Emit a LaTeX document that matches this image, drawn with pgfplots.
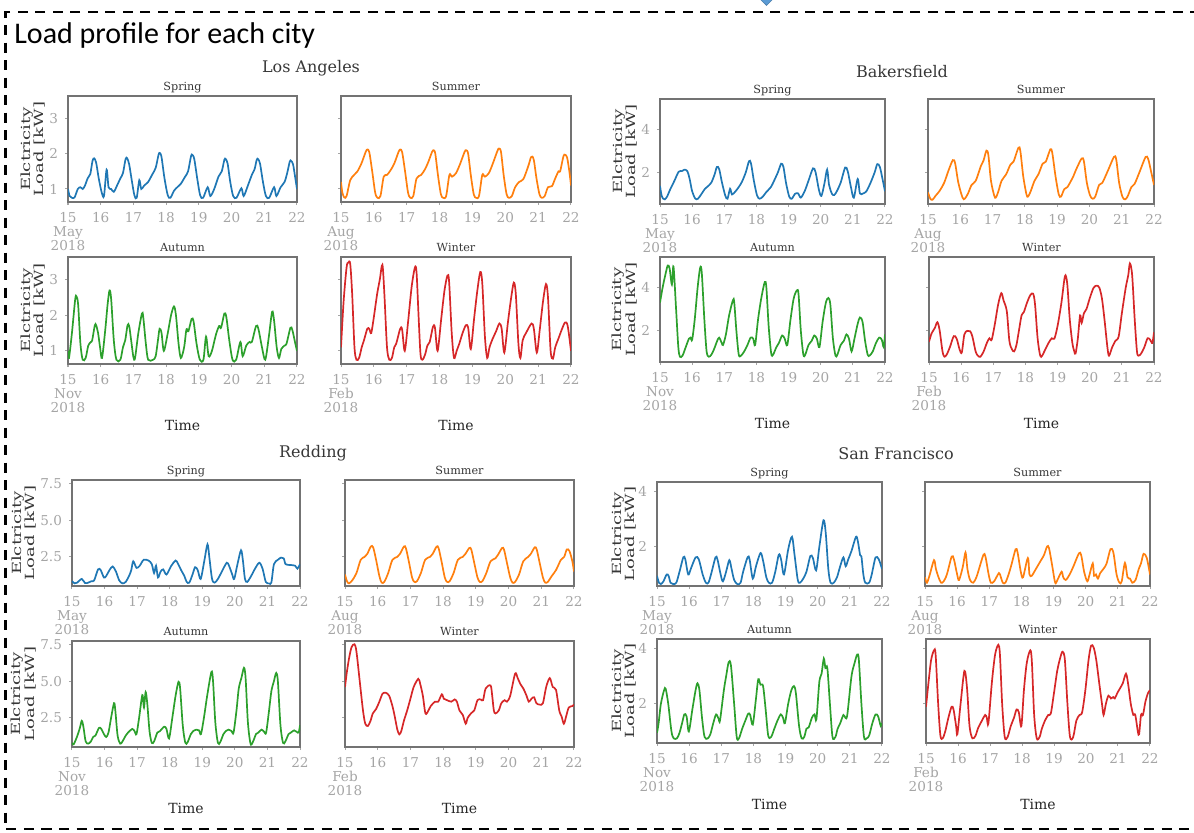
\documentclass[border=0pt]{standalone}
\usepackage{fontspec}
\usepackage{graphicx}
\usepackage{pgfplots}
\pgfplotsset{compat=1.18}
\setmainfont{DejaVu Serif}
\newfontfamily\titlefont{Carlito}

\definecolor{tabblue}{RGB}{31,119,180}
\definecolor{taborange}{RGB}{255,127,14}
\definecolor{tabgreen}{RGB}{44,160,44}
\definecolor{tabred}{RGB}{214,39,40}
\definecolor{framegray}{RGB}{115,115,115}
\definecolor{tickgray}{RGB}{165,165,165}
\definecolor{labelgray}{RGB}{55,55,55}
\definecolor{arrowblue}{RGB}{91,155,213}

\newcommand\tickfont{\fontsize{6.8}{7}\selectfont}
\newcommand\subfont{\fontsize{5.6}{6}\selectfont}
\newcommand\cityfont{\fontsize{8}{9}\selectfont}
\newcommand\timefont{\fontsize{7}{8}\selectfont}
\newcommand\ylab{\scalebox{1}[0.7]{\fontsize{9}{9.6}\selectfont\begin{tabular}{@{}c@{}}Elctricity\\Load [kW]\end{tabular}}}

\pgfplotsset{
  every axis title shift=0pt,
  panel/.style={
    scale only axis, anchor=north west,
    xmin=15, xmax=22, xtick={15,...,22},
    axis line style={draw=framegray, line width=0.8pt},
    major tick length=1.5pt, tick align=outside,
    xtick pos=bottom, ytick pos=left,
    every tick/.style={draw=tickgray, line width=0.5pt},
    tick label style={font=\tickfont, text=tickgray},
    xticklabel style={align=center},
    title style={font=\subfont, text=labelgray, at={(0.5,1)}, anchor=base, yshift=2.8pt, inner sep=0pt},
    /pgf/number format/assume math mode=true,
  },
  monthx/.style={xticklabels={{15\\#1\\2018},16,17,18,19,20,21,22}},
  la/.style={ymin=0.63, ymax=3.64, ytick={1,2,3}, yticklabels={1,2,3}},
  bak/.style={ymin=0.5, ymax=5.45, ytick={2,4}, yticklabels={2,4}},
  red/.style={ymin=0.52, ymax=7.72, ytick={2.5,5,7.5}, yticklabels={2.5,5.0,7.5}},
  sf/.style={ymin=0.58, ymax=4.36, ytick={2,4}, yticklabels={2,4}},
  noy/.style={yticklabels={}},
  lefty/.style={ylabel={\ylab}, ylabel style={at={(axis description cs:-#1,0.5)}, anchor=center, text=labelgray}},
  timex/.style={xlabel={Time}, xlabel style={at={(axis description cs:0.5,0)}, anchor=center, yshift=-30.5pt, font=\timefont, text=black!85}},
  ser/.style={line width=0.85pt, smooth, tension=0.5, no marks},
}

\begin{document}
\begin{tikzpicture}
\useasboundingbox (0,0) rectangle (597pt,-416pt);

% frame of the slide
\draw[line width=1.35pt, dash pattern=on 5pt off 3.75pt] (600pt,-6pt) -- (2.75pt,-6pt) -- (2.75pt,-414.5pt) -- (600pt,-414.5pt);
\filldraw[fill=arrowblue, draw=arrowblue!80!black, line width=0.3pt] (379.5pt,1pt) -- (387pt,1pt) -- (383.25pt,-2.7pt) -- cycle;
\node[anchor=base west, font=\titlefont\fontsize{15}{17}\selectfont, inner sep=0pt] at (7pt,-21.5pt) {Load profile for each city};

% city titles
\node[font=\cityfont, text=labelgray] at (155.5pt,-34pt) {Los Angeles};
\node[font=\cityfont, text=labelgray] at (451pt,-36pt) {Bakersfield};
\node[font=\cityfont, text=labelgray] at (156.5pt,-226.5pt) {Redding};
\node[font=\cityfont, text=labelgray] at (448pt,-227pt) {San Francisco};

%% ---------------- Los Angeles ----------------
\begin{axis}[panel, la, lefty=0.148, monthx=May, title={Spring}, at={(34pt,-48pt)}, width=114.5pt, height=53pt]
\addplot[ser, tabblue] coordinates {(15,1.0)(15.05,0.8)(15.12,0.75)(15.2,0.76)(15.3,1.0)(15.38,1.05)(15.45,1.0)(15.52,1.1)(15.6,1.3)(15.68,1.42)(15.75,1.8)(15.8,1.87)(15.86,1.75)(15.94,1.3)(16.03,0.9)(16.1,0.8)(16.18,1.55)(16.24,1.05)(16.32,1.0)(16.4,0.92)(16.5,1.1)(16.6,1.3)(16.68,1.45)(16.76,1.85)(16.81,1.87)(16.87,1.7)(16.94,1.3)(17.03,0.82)(17.1,0.75)(17.18,1.25)(17.24,1.0)(17.33,1.1)(17.45,1.2)(17.58,1.42)(17.68,1.6)(17.77,1.98)(17.81,2.02)(17.86,1.9)(17.95,1.3)(18.05,0.82)(18.13,0.75)(18.24,0.95)(18.34,1.05)(18.45,1.15)(18.58,1.35)(18.67,1.5)(18.76,1.93)(18.8,1.97)(18.86,1.85)(18.95,1.3)(19.04,0.82)(19.13,0.75)(19.27,1.05)(19.35,0.8)(19.47,1.0)(19.6,1.35)(19.7,1.5)(19.78,1.83)(19.82,1.85)(19.88,1.72)(19.96,1.2)(20.05,0.8)(20.15,0.75)(20.3,1.02)(20.37,0.8)(20.5,1.1)(20.62,1.4)(20.7,1.55)(20.77,1.83)(20.81,1.85)(20.87,1.72)(20.96,1.2)(21.05,0.8)(21.15,0.75)(21.3,1.05)(21.37,0.8)(21.5,1.05)(21.62,1.2)(21.7,1.45)(21.78,1.78)(21.82,1.8)(21.88,1.7)(21.95,1.3)(22,1.0)};
\end{axis}
\begin{axis}[panel, la, noy, monthx=Aug, title={Summer}, at={(170.5pt,-48pt)}, width=115pt, height=53pt]
\addplot[ser, taborange] coordinates {(15,1.2)(15.04,0.9)(15.1,0.76)(15.17,0.8)(15.28,1.25)(15.4,1.4)(15.5,1.5)(15.62,1.72)(15.75,2.05)(15.8,2.12)(15.86,2.05)(15.95,1.5)(16.04,0.9)(16.11,0.75)(16.2,0.8)(16.3,1.35)(16.4,1.4)(16.5,1.52)(16.62,1.72)(16.75,2.05)(16.8,2.12)(16.86,2.05)(16.95,1.5)(17.04,0.9)(17.11,0.75)(17.2,0.8)(17.3,1.3)(17.44,1.4)(17.55,1.55)(17.65,1.75)(17.77,2.05)(17.82,2.1)(17.87,2.0)(17.95,1.4)(18.04,0.85)(18.11,0.75)(18.2,0.8)(18.3,1.4)(18.38,1.35)(18.5,1.45)(18.62,1.7)(18.76,2.05)(18.81,2.1)(18.87,2.0)(18.95,1.4)(19.04,0.85)(19.11,0.75)(19.2,0.8)(19.3,1.4)(19.38,1.35)(19.5,1.45)(19.62,1.72)(19.76,2.08)(19.81,2.15)(19.87,2.05)(19.95,1.4)(20.04,0.85)(20.11,0.75)(20.2,0.8)(20.3,1.05)(20.42,1.2)(20.55,1.28)(20.7,1.65)(20.78,1.9)(20.82,1.92)(20.87,1.82)(20.95,1.3)(21.04,0.85)(21.11,0.75)(21.2,0.8)(21.3,1.05)(21.42,1.08)(21.52,1.3)(21.62,1.5)(21.67,1.5)(21.77,1.93)(21.82,1.97)(21.88,1.9)(21.95,1.5)(22,1.1)};
\end{axis}
\begin{axis}[panel, la, lefty=0.148, timex, monthx=Nov, title={Autumn}, at={(34pt,-128.5pt)}, width=114.5pt, height=53.5pt]
\addplot[ser, tabgreen] coordinates {(15,1.0)(15.03,0.8)(15.12,1.5)(15.22,2.45)(15.26,2.53)(15.31,2.3)(15.38,1.2)(15.45,0.75)(15.54,0.8)(15.62,1.15)(15.7,1.25)(15.74,1.3)(15.82,1.72)(15.86,1.72)(15.92,1.5)(15.98,1.1)(16.04,0.8)(16.14,1.6)(16.21,2.3)(16.27,2.7)(16.32,2.45)(16.4,1.3)(16.48,0.75)(16.6,0.75)(16.68,1.1)(16.75,1.3)(16.82,1.72)(16.87,1.7)(16.93,1.3)(17.0,0.82)(17.05,0.8)(17.15,1.5)(17.26,2.05)(17.3,1.95)(17.38,1.2)(17.45,0.75)(17.6,0.75)(17.68,0.85)(17.75,1.3)(17.8,1.62)(17.86,1.5)(17.93,1.0)(18.05,1.5)(18.15,2.0)(18.24,2.25)(18.3,2.0)(18.38,1.2)(18.45,0.8)(18.55,1.1)(18.62,1.6)(18.68,1.55)(18.78,1.9)(18.84,1.82)(18.93,1.2)(19.03,0.75)(19.14,0.75)(19.22,1.4)(19.3,0.85)(19.4,1.0)(19.52,1.45)(19.62,1.7)(19.68,1.65)(19.78,2.05)(19.84,1.95)(19.93,1.3)(20.03,0.75)(20.14,0.75)(20.27,1.25)(20.34,0.85)(20.45,1.15)(20.55,1.25)(20.62,1.25)(20.75,1.7)(20.82,1.62)(20.93,1.1)(21.03,0.75)(21.14,1.4)(21.24,2.1)(21.3,1.85)(21.38,1.1)(21.45,0.8)(21.52,1.05)(21.62,1.15)(21.68,1.2)(21.8,1.65)(21.86,1.58)(21.95,1.2)(22,1.0)};
\end{axis}
\begin{axis}[panel, la, noy, timex, monthx=Feb, title={Winter}, at={(170.5pt,-128.5pt)}, width=115pt, height=53.5pt]
\addplot[ser, tabred] coordinates {(15,1.1)(15.08,2.4)(15.17,3.35)(15.22,3.48)(15.28,3.45)(15.34,2.6)(15.41,1.1)(15.47,0.75)(15.55,0.8)(15.63,1.1)(15.7,1.3)(15.8,1.62)(15.86,1.62)(15.92,1.5)(16.0,1.95)(16.1,2.6)(16.18,3.0)(16.26,3.42)(16.32,2.6)(16.4,1.1)(16.47,0.75)(16.55,0.8)(16.62,1.1)(16.68,1.2)(16.8,1.62)(16.86,1.6)(16.94,1.0)(17.04,1.8)(17.15,2.8)(17.25,3.35)(17.3,3.2)(17.36,2.0)(17.42,0.9)(17.48,0.75)(17.56,0.9)(17.63,1.15)(17.7,1.25)(17.8,1.68)(17.86,1.65)(17.94,1.0)(18.05,1.9)(18.15,2.7)(18.24,3.12)(18.29,2.95)(18.37,1.5)(18.44,0.8)(18.52,1.0)(18.6,1.2)(18.7,1.5)(18.8,1.72)(18.87,1.65)(18.95,1.05)(19.05,1.9)(19.15,2.7)(19.24,3.22)(19.3,2.9)(19.38,1.4)(19.45,0.8)(19.52,1.1)(19.62,1.35)(19.72,1.55)(19.82,1.77)(19.89,1.62)(19.97,0.95)(20.08,1.8)(20.18,2.5)(20.26,2.92)(20.32,2.6)(20.4,1.2)(20.46,0.8)(20.53,1.3)(20.63,1.5)(20.8,1.77)(20.87,1.62)(20.96,0.95)(21.05,1.6)(21.15,2.4)(21.24,2.88)(21.3,2.5)(21.38,1.0)(21.45,0.78)(21.52,1.1)(21.62,1.35)(21.72,1.6)(21.82,1.8)(21.9,1.7)(22,1.0)};
\end{axis}

%% ---------------- Bakersfield ----------------
\begin{axis}[panel, bak, lefty=0.151, monthx=May, title={Spring}, at={(330pt,-49.5pt)}, width=112.5pt, height=52.5pt]
\addplot[ser, tabblue] coordinates {(15,1.35)(15.05,0.9)(15.1,0.75)(15.15,0.72)(15.22,0.85)(15.32,1.2)(15.45,1.6)(15.58,2.02)(15.68,2.05)(15.76,2.12)(15.85,2.05)(15.92,1.7)(16.0,1.1)(16.1,0.75)(16.18,0.75)(16.28,0.95)(16.4,1.22)(16.5,1.35)(16.6,1.52)(16.7,1.9)(16.77,2.25)(16.84,2.15)(16.93,1.5)(17.03,0.9)(17.1,0.75)(17.18,1.22)(17.24,0.95)(17.35,1.1)(17.45,1.3)(17.55,1.55)(17.67,2.0)(17.77,2.52)(17.83,2.42)(17.92,1.6)(18.02,0.9)(18.1,0.75)(18.2,0.85)(18.3,1.05)(18.45,1.3)(18.55,1.6)(18.67,2.0)(18.77,2.4)(18.84,2.25)(18.92,1.5)(19.02,0.85)(19.1,0.75)(19.2,0.98)(19.3,1.0)(19.38,0.8)(19.5,1.1)(19.62,1.6)(19.76,2.18)(19.84,2.0)(19.94,1.2)(20.02,0.88)(20.12,1.5)(20.2,2.12)(20.26,1.4)(20.35,0.98)(20.42,0.92)(20.5,1.1)(20.62,1.5)(20.76,2.22)(20.84,2.05)(20.94,1.3)(21.03,0.8)(21.15,1.68)(21.22,1.0)(21.32,1.0)(21.42,1.1)(21.55,1.5)(21.68,2.0)(21.76,2.38)(21.84,2.25)(21.92,1.7)(22,1.1)};
\end{axis}
\begin{axis}[panel, bak, noy, monthx=Aug, title={Summer}, at={(464pt,-49.5pt)}, width=113pt, height=52.5pt]
\addplot[ser, taborange] coordinates {(15,1.05)(15.07,0.75)(15.14,0.7)(15.24,0.9)(15.35,1.1)(15.5,1.5)(15.64,2.1)(15.77,2.57)(15.84,2.42)(15.94,1.5)(16.07,0.8)(16.14,0.75)(16.24,1.0)(16.35,1.4)(16.48,1.6)(16.64,2.3)(16.72,2.55)(16.81,3.02)(16.87,2.8)(16.95,1.6)(17.05,0.9)(17.1,0.8)(17.18,1.1)(17.28,1.6)(17.42,1.9)(17.55,2.35)(17.65,2.5)(17.8,3.15)(17.86,3.0)(17.95,1.8)(18.05,0.95)(18.1,0.85)(18.18,1.1)(18.3,1.6)(18.42,1.9)(18.55,2.4)(18.65,2.5)(18.79,3.08)(18.85,2.9)(18.95,1.8)(19.05,0.95)(19.12,0.85)(19.22,1.2)(19.32,1.3)(19.5,1.8)(19.58,2.1)(19.76,2.65)(19.83,2.5)(19.92,1.5)(20.02,0.9)(20.1,0.75)(20.18,0.85)(20.3,1.4)(20.4,1.5)(20.58,2.1)(20.76,2.72)(20.83,2.6)(20.92,1.5)(21.02,0.85)(21.1,0.72)(21.18,0.85)(21.3,1.3)(21.4,1.45)(21.55,2.0)(21.74,2.72)(21.82,2.62)(21.9,2.1)(22,1.4)};
\end{axis}
\begin{axis}[panel, bak, lefty=0.151, timex, monthx=Nov, title={Autumn}, at={(330pt,-128.5pt)}, width=112.5pt, height=52.5pt]
\addplot[ser, tabgreen] coordinates {(15,3.3)(15.08,4.0)(15.15,4.5)(15.24,5.05)(15.3,4.9)(15.37,4.15)(15.42,5.0)(15.5,3.0)(15.57,1.2)(15.62,0.75)(15.7,0.8)(15.8,1.2)(15.9,1.6)(15.95,1.65)(16.0,1.55)(16.08,2.5)(16.17,4.0)(16.25,4.95)(16.3,4.7)(16.38,2.5)(16.45,1.0)(16.52,0.75)(16.6,0.85)(16.68,1.1)(16.78,1.5)(16.84,1.65)(16.92,1.4)(16.96,1.3)(17.05,1.8)(17.15,2.7)(17.27,3.42)(17.31,3.3)(17.38,1.9)(17.45,0.85)(17.52,0.8)(17.62,1.0)(17.72,1.3)(17.82,1.65)(17.9,1.6)(17.96,1.3)(18.05,2.5)(18.15,3.5)(18.26,4.27)(18.31,4.0)(18.38,2.2)(18.46,0.9)(18.52,0.85)(18.62,1.2)(18.7,1.4)(18.8,1.75)(18.88,1.6)(18.96,1.3)(19.06,2.5)(19.16,3.5)(19.26,3.88)(19.31,3.7)(19.38,2.0)(19.46,0.85)(19.52,0.85)(19.62,1.3)(19.72,1.5)(19.8,1.75)(19.88,1.6)(19.96,1.2)(20.06,2.4)(20.16,3.3)(20.24,3.52)(20.3,3.2)(20.38,1.6)(20.46,0.8)(20.52,0.85)(20.62,1.3)(20.72,1.5)(20.8,1.8)(20.88,1.6)(20.96,1.0)(21.05,1.6)(21.15,2.3)(21.22,2.6)(21.3,2.4)(21.38,1.5)(21.46,0.85)(21.52,0.8)(21.62,1.0)(21.72,1.4)(21.82,1.65)(21.9,1.55)(21.96,1.2)(22,1.8)};
\end{axis}
\begin{axis}[panel, bak, noy, timex, monthx=Feb, title={Winter}, at={(464.5pt,-128.5pt)}, width=112.5pt, height=52.5pt]
\addplot[ser, tabred] coordinates {(15,1.45)(15.08,1.85)(15.18,2.1)(15.26,2.38)(15.33,2.0)(15.42,1.0)(15.48,0.75)(15.55,0.85)(15.65,1.2)(15.77,1.72)(15.86,1.6)(15.95,1.1)(16.02,0.95)(16.1,1.8)(16.19,1.97)(16.28,1.95)(16.35,1.7)(16.45,1.0)(16.52,0.8)(16.6,0.75)(16.7,1.0)(16.8,1.4)(16.88,1.62)(16.95,1.55)(17.05,2.3)(17.15,3.2)(17.25,3.75)(17.32,3.4)(17.42,2.9)(17.5,1.5)(17.58,1.1)(17.65,1.0)(17.72,1.3)(17.8,2.0)(17.88,2.7)(17.95,2.85)(18.05,3.3)(18.15,3.65)(18.24,3.72)(18.3,3.2)(18.38,1.6)(18.46,0.8)(18.52,0.8)(18.62,1.1)(18.72,1.4)(18.82,1.62)(18.9,1.6)(19.0,2.2)(19.12,3.3)(19.23,4.55)(19.3,4.2)(19.38,2.5)(19.46,1.4)(19.52,1.0)(19.56,0.9)(19.63,1.6)(19.7,2.7)(19.75,2.35)(19.82,2.8)(19.9,3.0)(20.0,3.5)(20.12,4.0)(20.22,4.1)(20.3,4.0)(20.38,3.5)(20.46,2.5)(20.55,1.2)(20.6,0.8)(20.7,1.2)(20.8,1.5)(20.9,1.7)(21.0,2.8)(21.12,4.0)(21.2,4.6)(21.25,5.15)(21.32,4.6)(21.4,2.5)(21.47,1.0)(21.52,0.8)(21.6,0.9)(21.7,1.2)(21.8,1.62)(21.88,1.55)(21.95,1.4)(22,1.9)};
\end{axis}

%% ---------------- Redding ----------------
\begin{axis}[panel, red, lefty=0.206, monthx=May, title={Spring}, at={(36pt,-240pt)}, width=114pt, height=53pt]
\addplot[ser, tabblue] coordinates {(15,0.85)(15.08,0.7)(15.16,0.75)(15.3,1.0)(15.4,0.72)(15.5,0.75)(15.6,0.85)(15.68,0.9)(15.8,1.65)(15.88,1.6)(15.98,1.1)(16.05,1.2)(16.15,1.6)(16.25,1.85)(16.35,1.5)(16.45,0.9)(16.55,0.7)(16.65,0.8)(16.75,1.2)(16.82,1.6)(16.88,2.2)(16.98,1.75)(17.08,1.9)(17.2,2.3)(17.35,2.25)(17.45,2.0)(17.52,1.4)(17.58,1.9)(17.64,1.1)(17.72,1.5)(17.8,1.65)(17.9,1.3)(18.05,1.9)(18.18,2.25)(18.25,2.05)(18.35,1.6)(18.45,1.2)(18.52,0.8)(18.6,0.75)(18.7,1.3)(18.78,1.8)(18.86,1.6)(18.95,1.0)(19.06,2.2)(19.16,3.35)(19.22,2.4)(19.3,1.0)(19.38,0.75)(19.48,1.0)(19.6,1.5)(19.75,2.1)(19.82,1.9)(19.92,1.3)(19.98,1.0)(20.08,2.0)(20.19,2.95)(20.25,2.2)(20.31,1.0)(20.38,0.8)(20.5,1.2)(20.62,1.7)(20.75,2.1)(20.85,1.7)(20.95,0.8)(21.05,0.7)(21.12,0.75)(21.2,2.0)(21.32,2.3)(21.42,2.45)(21.5,2.4)(21.56,2.0)(21.7,1.95)(21.85,1.9)(21.92,1.7)(22,2.0)};
\end{axis}
\begin{axis}[panel, red, noy, monthx=Aug, title={Summer}, at={(172.5pt,-240pt)}, width=114.5pt, height=53pt]
\addplot[ser, taborange] coordinates {(15,1.3)(15.06,0.85)(15.12,0.7)(15.22,0.9)(15.35,1.4)(15.48,2.3)(15.6,2.5)(15.68,2.7)(15.79,3.2)(15.86,3.15)(15.95,2.3)(16.05,1.2)(16.12,0.75)(16.2,0.8)(16.32,1.4)(16.45,2.3)(16.6,2.5)(16.68,2.7)(16.8,3.2)(16.86,3.1)(16.95,2.2)(17.05,1.1)(17.12,0.8)(17.2,0.85)(17.32,1.4)(17.45,2.3)(17.6,2.5)(17.68,2.7)(17.8,3.2)(17.86,3.1)(17.95,2.2)(18.05,1.1)(18.12,0.8)(18.2,0.85)(18.32,1.4)(18.45,2.3)(18.6,2.5)(18.68,2.7)(18.8,3.1)(18.86,3.0)(18.95,2.1)(19.05,1.1)(19.12,0.8)(19.2,0.85)(19.32,1.4)(19.45,2.2)(19.6,2.4)(19.68,2.65)(19.8,3.1)(19.86,3.0)(19.95,2.1)(20.05,1.1)(20.12,0.75)(20.2,0.8)(20.32,1.3)(20.45,2.2)(20.6,2.5)(20.68,2.7)(20.8,3.15)(20.86,3.0)(20.95,2.1)(21.05,1.1)(21.12,0.75)(21.2,0.8)(21.32,1.2)(21.45,1.6)(21.6,2.3)(21.7,2.5)(21.78,3.0)(21.86,2.9)(21.95,2.2)(22,1.5)};
\end{axis}
\begin{axis}[panel, red, lefty=0.206, timex, monthx=Nov, title={Autumn}, at={(36pt,-320.5pt)}, width=114pt, height=53pt]
\addplot[ser, tabgreen] coordinates {(15,0.8)(15.05,0.7)(15.15,1.2)(15.24,1.8)(15.3,2.3)(15.35,1.9)(15.42,0.9)(15.5,0.75)(15.58,0.9)(15.65,1.2)(15.72,1.3)(15.83,1.82)(15.9,1.75)(15.98,1.4)(16.05,1.2)(16.12,1.5)(16.2,2.5)(16.29,3.5)(16.33,3.0)(16.4,1.3)(16.48,0.75)(16.55,0.9)(16.65,1.3)(16.72,1.5)(16.85,1.75)(16.92,1.6)(16.98,1.4)(17.06,2.5)(17.16,4.05)(17.21,3.2)(17.26,4.25)(17.31,3.5)(17.38,1.6)(17.45,0.8)(17.52,0.9)(17.62,1.5)(17.7,1.6)(17.83,1.9)(17.9,1.75)(17.98,1.1)(18.08,2.5)(18.18,4.0)(18.27,4.95)(18.32,4.5)(18.4,2.0)(18.48,0.8)(18.55,0.85)(18.65,1.4)(18.72,1.6)(18.82,1.7)(18.9,1.65)(18.96,1.4)(19.05,2.5)(19.15,4.0)(19.28,5.62)(19.33,5.0)(19.4,2.2)(19.48,0.8)(19.55,0.85)(19.65,1.4)(19.72,1.6)(19.8,1.7)(19.9,1.6)(19.96,1.5)(20.05,3.0)(20.12,4.5)(20.2,5.2)(20.28,5.9)(20.33,5.2)(20.4,2.2)(20.48,0.75)(20.55,0.85)(20.65,1.4)(20.72,1.5)(20.82,1.7)(20.9,1.55)(20.96,1.5)(21.05,3.0)(21.12,4.3)(21.2,5.0)(21.27,5.55)(21.32,5.0)(21.4,2.0)(21.48,0.8)(21.55,0.9)(21.65,1.4)(21.72,1.5)(21.82,1.65)(21.9,1.55)(21.96,1.5)(22,2.0)};
\end{axis}
\begin{axis}[panel, red, noy, timex, monthx=Feb, title={Winter}, at={(172.5pt,-320.5pt)}, width=114.5pt, height=53pt]
\addplot[ser, tabred] coordinates {(15,4.6)(15.05,5.5)(15.12,6.5)(15.2,7.3)(15.29,7.5)(15.35,7.0)(15.45,5.0)(15.55,3.0)(15.62,2.1)(15.7,1.95)(15.78,2.3)(15.85,2.8)(15.95,3.1)(16.05,3.6)(16.15,4.15)(16.25,4.2)(16.35,4.0)(16.45,3.3)(16.52,2.6)(16.6,1.7)(16.66,1.38)(16.72,1.6)(16.8,2.3)(16.9,3.0)(17.0,3.8)(17.1,4.6)(17.24,5.15)(17.3,4.8)(17.38,4.0)(17.46,2.8)(17.55,3.0)(17.62,3.3)(17.75,3.6)(17.85,3.6)(17.96,4.1)(18.02,3.8)(18.12,3.7)(18.25,3.6)(18.35,3.75)(18.42,3.6)(18.5,3.0)(18.6,2.7)(18.69,2.1)(18.75,2.5)(18.85,2.8)(18.95,3.0)(19.05,3.7)(19.15,3.75)(19.22,3.7)(19.3,4.5)(19.45,4.7)(19.5,4.0)(19.55,3.0)(19.6,2.8)(19.7,3.0)(19.78,3.5)(19.88,3.7)(19.95,3.6)(20.05,4.0)(20.2,5.5)(20.28,5.2)(20.36,4.8)(20.45,4.5)(20.55,4.0)(20.62,3.6)(20.7,3.8)(20.78,3.9)(20.85,3.5)(20.95,3.4)(21.05,3.5)(21.15,4.6)(21.26,5.2)(21.35,4.6)(21.45,4.4)(21.55,3.0)(21.62,2.6)(21.69,2.1)(21.76,2.6)(21.84,3.2)(21.95,3.3)(22,3.4)};
\end{axis}

%% ---------------- San Francisco ----------------
\begin{axis}[panel, sf, lefty=0.142, monthx=May, title={Spring}, at={(328.5pt,-241pt)}, width=112.5pt, height=52pt]
\addplot[ser, tabblue] coordinates {(15,0.95)(15.06,0.7)(15.12,0.65)(15.2,0.75)(15.3,1.0)(15.36,0.95)(15.42,0.7)(15.5,0.65)(15.6,0.7)(15.7,1.1)(15.82,1.63)(15.88,1.55)(15.97,1.0)(16.05,1.2)(16.2,1.62)(16.3,1.55)(16.42,1.0)(16.52,0.7)(16.6,0.7)(16.68,1.0)(16.82,1.62)(16.88,1.55)(16.98,1.0)(17.05,0.75)(17.15,1.1)(17.25,1.52)(17.32,1.2)(17.4,0.8)(17.5,0.65)(17.6,0.7)(17.68,1.1)(17.82,1.63)(17.88,1.55)(17.98,0.85)(18.08,1.3)(18.22,1.78)(18.3,1.5)(18.4,0.9)(18.48,0.7)(18.58,0.7)(18.68,1.1)(18.79,1.72)(18.86,1.55)(18.95,1.0)(19.08,1.9)(19.2,2.37)(19.28,1.7)(19.38,0.8)(19.45,0.7)(19.55,0.85)(19.65,1.1)(19.77,1.67)(19.85,1.6)(19.95,1.15)(20.05,2.0)(20.18,2.97)(20.25,2.5)(20.33,1.2)(20.4,0.7)(20.5,0.7)(20.6,0.9)(20.7,1.3)(20.8,1.62)(20.87,1.3)(20.95,1.55)(21.05,1.85)(21.19,2.37)(21.25,2.2)(21.32,1.7)(21.36,1.65)(21.42,1.0)(21.48,0.7)(21.6,0.7)(21.68,1.0)(21.8,1.62)(21.9,1.55)(22,1.2)};
\end{axis}
\begin{axis}[panel, sf, noy, monthx=Aug, title={Summer}, at={(462.5pt,-241pt)}, width=112.5pt, height=52pt]
\addplot[ser, taborange] coordinates {(15,0.9)(15.06,0.7)(15.15,1.0)(15.28,1.52)(15.34,1.2)(15.42,0.9)(15.5,0.7)(15.58,0.75)(15.68,1.0)(15.83,1.65)(15.9,1.55)(16.0,1.0)(16.06,0.8)(16.18,1.3)(16.26,1.8)(16.32,1.2)(16.4,0.8)(16.5,0.7)(16.6,0.9)(16.68,1.2)(16.82,1.72)(16.88,1.65)(16.98,1.0)(17.05,0.7)(17.15,0.75)(17.3,1.05)(17.36,0.9)(17.42,0.7)(17.5,0.7)(17.6,1.0)(17.7,1.4)(17.82,1.92)(17.88,1.8)(17.98,1.1)(18.05,0.9)(18.2,1.6)(18.25,1.0)(18.32,0.95)(18.4,1.1)(18.5,1.3)(18.6,1.5)(18.7,1.7)(18.8,2.02)(18.86,1.95)(18.96,1.3)(19.05,0.7)(19.12,0.8)(19.25,1.1)(19.3,0.9)(19.38,0.8)(19.5,1.0)(19.62,1.3)(19.79,1.77)(19.86,1.7)(19.95,1.1)(20.05,0.75)(20.12,1.0)(20.22,1.4)(20.26,0.95)(20.32,1.0)(20.38,0.85)(20.45,1.05)(20.55,1.2)(20.65,1.4)(20.77,1.92)(20.86,1.8)(20.96,1.0)(21.05,0.7)(21.12,0.75)(21.22,1.42)(21.3,0.9)(21.38,0.85)(21.45,0.7)(21.55,0.8)(21.65,1.2)(21.72,1.4)(21.8,1.75)(21.9,1.6)(22,1.0)};
\end{axis}
\begin{axis}[panel, sf, lefty=0.142, timex, monthx=Nov, title={Autumn}, at={(328.5pt,-319.5pt)}, width=112.5pt, height=52pt]
\addplot[ser, tabgreen] coordinates {(15,0.95)(15.05,1.3)(15.12,2.0)(15.22,2.5)(15.27,2.55)(15.35,2.0)(15.45,1.0)(15.52,0.75)(15.62,0.75)(15.7,0.95)(15.78,1.3)(15.85,1.62)(15.92,1.55)(15.99,1.0)(16.1,1.8)(16.2,2.5)(16.26,2.75)(16.32,2.5)(16.4,1.5)(16.48,0.8)(16.58,0.75)(16.66,0.9)(16.75,1.3)(16.84,1.62)(16.92,1.45)(16.96,1.4)(17.08,2.5)(17.15,3.0)(17.23,3.52)(17.3,3.4)(17.4,2.0)(17.48,0.8)(17.55,0.75)(17.65,1.1)(17.75,1.4)(17.84,1.65)(17.9,1.6)(17.98,1.25)(18.08,2.2)(18.15,2.9)(18.22,2.7)(18.3,2.65)(18.38,1.8)(18.46,0.85)(18.55,0.8)(18.65,1.1)(18.75,1.4)(18.85,1.62)(18.92,1.5)(18.98,1.3)(19.08,2.0)(19.18,2.5)(19.26,2.65)(19.32,2.4)(19.42,1.2)(19.5,0.75)(19.58,0.8)(19.65,1.1)(19.72,1.15)(19.82,1.5)(19.9,1.62)(19.96,1.45)(20.05,2.8)(20.12,3.1)(20.19,3.65)(20.24,3.3)(20.3,3.3)(20.38,2.0)(20.46,0.8)(20.55,0.8)(20.62,1.1)(20.7,1.3)(20.8,1.6)(20.86,1.5)(20.92,1.6)(21.05,3.0)(21.15,3.5)(21.23,3.8)(21.28,3.6)(21.36,2.0)(21.44,0.8)(21.52,0.75)(21.6,0.85)(21.7,1.3)(21.8,1.62)(21.88,1.55)(21.96,1.2)(22,1.3)};
\end{axis}
\begin{axis}[panel, sf, noy, timex, monthx=Feb, title={Winter}, at={(463pt,-319.5pt)}, width=112pt, height=52pt]
\addplot[ser, tabred] coordinates {(15,1.9)(15.08,2.8)(15.16,3.6)(15.25,3.95)(15.3,3.8)(15.38,2.0)(15.45,0.85)(15.52,0.75)(15.6,1.0)(15.7,1.5)(15.8,1.9)(15.86,1.8)(15.94,1.2)(15.98,0.9)(16.08,2.0)(16.2,3.2)(16.28,2.6)(16.36,1.2)(16.45,0.75)(16.55,0.85)(16.62,1.1)(16.75,1.4)(16.85,1.6)(16.9,1.5)(16.95,1.3)(17.06,2.8)(17.16,3.8)(17.26,4.15)(17.31,3.8)(17.38,2.0)(17.46,0.8)(17.55,0.8)(17.65,1.2)(17.75,1.5)(17.83,1.8)(17.9,1.7)(17.98,1.2)(18.06,2.5)(18.15,3.5)(18.26,3.95)(18.31,3.5)(18.38,1.6)(18.46,0.75)(18.55,0.8)(18.62,1.1)(18.72,1.4)(18.82,1.6)(18.9,1.65)(19.0,2.4)(19.1,3.2)(19.2,3.7)(19.27,3.9)(19.34,3.6)(19.42,2.0)(19.5,0.8)(19.6,0.8)(19.7,1.4)(19.8,1.6)(19.88,1.7)(19.98,2.5)(20.08,3.6)(20.16,4.12)(20.24,4.05)(20.32,3.6)(20.42,2.7)(20.5,2.0)(20.55,1.6)(20.62,2.0)(20.7,2.3)(20.78,2.2)(20.85,2.25)(20.9,2.2)(20.98,2.4)(21.08,2.6)(21.15,2.75)(21.25,3.1)(21.32,2.7)(21.4,2.0)(21.48,1.6)(21.54,1.6)(21.62,1.0)(21.66,0.9)(21.72,1.6)(21.78,1.6)(21.86,2.1)(21.94,2.4)(22,2.5)};
\end{axis}
\end{tikzpicture}
\end{document}
